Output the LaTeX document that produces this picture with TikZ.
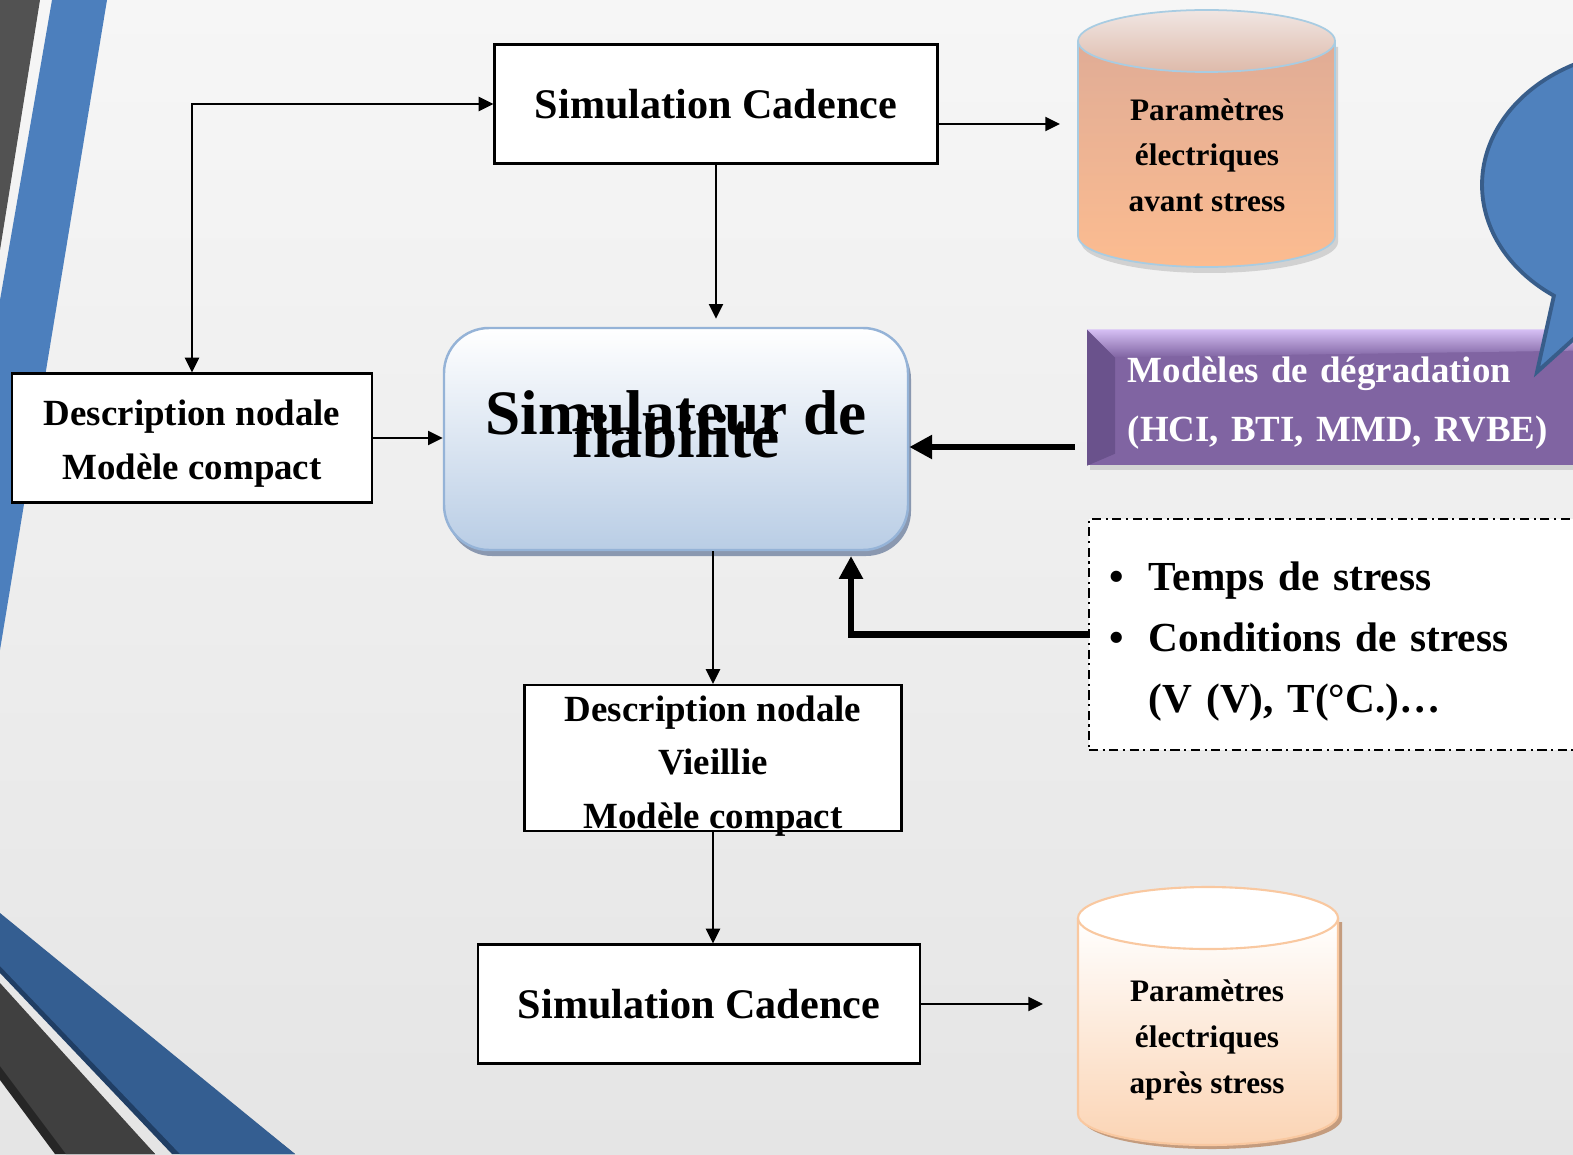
\documentclass[tikz,border=0pt]{standalone}
\usepackage{fontspec}
\setmainfont{Liberation Serif}
\usetikzlibrary{arrows.meta,calc,shapes.callouts,shadows}

\definecolor{fond}{RGB}{246,246,246}
\definecolor{fondbas}{RGB}{229,229,229}
\definecolor{bandeau}{RGB}{76,127,189}
\definecolor{bandeaubas}{RGB}{52,94,145}
\definecolor{bandeauombre}{RGB}{32,62,100}
\definecolor{gris}{RGB}{82,82,82}
\definecolor{grisbas}{RGB}{64,64,64}
\definecolor{simbleu}{RGB}{185,205,229}
\definecolor{simbord}{RGB}{149,179,215}
\definecolor{simombre}{RGB}{138,152,176}
\definecolor{violet}{RGB}{128,100,162}
\definecolor{violetclair}{RGB}{214,192,245}
\definecolor{violetfonce}{RGB}{106,82,140}
\definecolor{bulle}{RGB}{79,129,189}
\definecolor{bullebord}{RGB}{56,93,138}
\definecolor{saumonhaut}{RGB}{224,172,150}
\definecolor{saumonbas}{RGB}{252,188,144}
\definecolor{couvercle}{RGB}{240,230,227}
\definecolor{couverclebas}{RGB}{222,186,170}
\definecolor{cylbord}{RGB}{168,204,226}
\definecolor{pechebas}{RGB}{251,212,180}
\definecolor{pechebord}{RGB}{249,200,160}
\definecolor{pecheombre}{RGB}{196,156,126}

\newcommand\serre{\lineskiplimit=-100pt\relax}
\newcommand\haut[1]{\rule{0pt}{#1}}
\newcommand\bas[1]{\rule[-#1]{0pt}{#1}}

\tikzset{
  cadre/.style={draw=black, line width=0.6pt, fill=white, inner sep=0pt, align=center},
  fleche/.style={line width=0.6pt, -{Triangle[length=4.2pt,width=4pt]}},
  doublefleche/.style={line width=0.6pt, {Triangle[length=4.2pt,width=4pt]}-{Triangle[length=4.2pt,width=4pt]}},
  grossefleche/.style={line width=1.8pt, -{Triangle[length=6.5pt,width=6.5pt]}},
}

\begin{document}
\begin{tikzpicture}[x=0.1mm,y=-0.1mm]
  \useasboundingbox (0,0) rectangle (1573,1154);
  \begin{scope}
    \clip (0,0) rectangle (1573,1154);
    \shade[top color=fond, bottom color=fondbas] (0,0) rectangle (1573,1154);

    % bandeaux du gabarit
    \fill[gris] (0,0) -- (40,0) -- (0,250) -- cycle;
    \fill[bandeau] (52,0) -- (107,0) -- (0,650) -- (0,300) -- cycle;
    \fill[bandeauombre] (0,920) -- (295,1154) -- (172,1154) -- (0,973) -- cycle;
    \fill[bandeaubas] (0,913) -- (295,1154) -- (180,1154) -- (0,966) -- cycle;
    \fill[black!85] (0,990) -- (155,1154) -- (55,1154) -- (0,1080) -- cycle;
    \fill[grisbas] (0,983) -- (155,1154) -- (66,1154) -- (0,1066) -- cycle;

    % cylindre avant stress
    \fill[black!18] (1081,47) -- (1081,242) arc[start angle=180, end angle=0, x radius=128.5, y radius=31] -- (1338,47) -- cycle;
    \shade[top color=saumonhaut, bottom color=saumonbas] (1078,41) -- (1078,236) arc[start angle=180, end angle=0, x radius=128.5, y radius=31] -- (1335,41) -- cycle;
    \draw[cylbord, line width=0.5pt] (1078,41) -- (1078,236) arc[start angle=180, end angle=0, x radius=128.5, y radius=31] -- (1335,41);
    \shade[top color=couvercle, bottom color=couverclebas, draw=cylbord, line width=0.5pt] (1206.5,41) ellipse[x radius=128.5, y radius=31];
    \node[font=\bfseries\fontsize{8.9}{13}\selectfont, align=center] (avant) at (1207,155) {Paramètres\\électriques\\avant stress};

    % cylindre apres stress
    \fill[pecheombre] (1082,922) -- (1082,1118) arc[start angle=180, end angle=0, x radius=130, y radius=31] -- (1342,922) -- cycle;
    \shade[top color=white, bottom color=pechebas] (1078,918) -- (1078,1114) arc[start angle=180, end angle=0, x radius=130, y radius=31] -- (1338,918) -- cycle;
    \draw[pechebord, line width=0.6pt] (1078,918) -- (1078,1114) arc[start angle=180, end angle=0, x radius=130, y radius=31] -- (1338,918);
    \filldraw[fill=white, draw=pechebord, line width=0.6pt] (1208,918) ellipse[x radius=130, y radius=31];
    \node[font=\bfseries\fontsize{8.9}{13}\selectfont, align=center] (apres) at (1207,1040) {Paramètres\\électriques\\après stress};

    % blocs
    \node[cadre, font=\bfseries\fontsize{12}{14}\selectfont, minimum width=44.3mm, minimum height=11.9mm] (simhaut) at (716,104) {Simulation Cadence};
    \node[cadre, font=\bfseries\fontsize{10.5}{15.4}\selectfont, minimum width=36mm, minimum height=12.9mm] (descA) at (192,438) {\haut{10.5pt}Description nodale\\Modèle compact};
    \node[draw=simbord, line width=0.7pt, rounded corners=4.5mm, top color=white, bottom color=simbleu,
      drop shadow={shadow xshift=0.3mm, shadow yshift=-0.6mm, fill=simombre, opacity=1},
      minimum width=46.4mm, minimum height=22.2mm, align=center,
      font={\bfseries\fontsize{18}{6.3}\selectfont\serre}] (simu) at (676,439) {Simulateur de\\fiabilité\bas{8.5pt}};
    \node[cadre, minimum width=37.7mm, minimum height=14.6mm] (descB) at (713,758) {};
    \node[align=center, font=\bfseries\fontsize{10.5}{15.2}\selectfont] (descBtexte) at ($(descB.center)+(0,8)$) {Description nodale\\Vieillie\\Modèle compact};
    \node[cadre, font=\bfseries\fontsize{12}{14}\selectfont, minimum width=44.2mm, minimum height=11.9mm] (simbas) at (699,1004) {Simulation Cadence};

    % modeles de degradation
    \node[fill=violet, anchor=west, minimum height=13.5mm, text width=50mm, inner xsep=4mm, align=left,
      drop shadow={opacity=0.25, shadow xshift=0.2mm, shadow yshift=-0.5mm}] (degr) at (1087,397.5) {};
    \fill[violetfonce] (degr.north west) -- ++(28,28) -- ($(degr.south west)+(28,-12)$) -- (degr.south west) -- cycle;
    \shade[top color=violetclair, bottom color=violet] (degr.north west) -- (degr.north east) -- ($(degr.north east)+(0,20)$) -- ($(degr.north west)+(28,28)$) -- cycle;
    \node[anchor=west, text width=50mm, inner xsep=4mm, align=left, text=white,
      font=\bfseries\fontsize{10.5}{16.8}\selectfont] (degrtexte) at ($(degr.west)+(0,6)$) {Modèles de dégradation\\(HCI, BTI, MMD, RVBE)};

    % bulle
    \node[ellipse callout, draw=bullebord, fill=bulle, line width=1.1pt, minimum width=33.6mm, minimum height=27mm,
      callout absolute pointer={(1537,372)}, callout pointer arc=18] (bulle) at (1650,185) {};

    % conditions de stress
    \node[draw=black, fill=white, line width=0.5pt, dash pattern=on 2.6pt off 1.3pt on 0.6pt off 1.3pt,
      anchor=west, minimum height=23.1mm, text width=56.2mm, inner xsep=2.1mm, align=left,
      font=\bfseries\fontsize{11.75}{17.4}\selectfont] (stress) at (1088,634.5)
      {\haut{12pt}\textbullet\hspace{7pt}Temps de stress\\\textbullet\hspace{7pt}Conditions de stress\\\phantom{\textbullet}\hspace{7pt}(V (V), T(°C.)…};

    % liaisons
    \draw[fleche, shorten >=0.8mm] (simhaut.south) -- (simhaut.south |- simu.north);
    \draw[doublefleche] (descA.north) |- (simhaut.west);
    \draw[fleche] (descA.east) -- (descA.east -| simu.west);
    \draw[fleche] (descB.north |- simu.south) -- (descB.north);
    \draw[fleche] (descB.south) -- (descB.south |- simbas.north);
    \coordinate (versA) at (1060,124);
    \draw[fleche] (simhaut.east |- versA) -- (versA);
    \coordinate (versB) at (1043,1004);
    \draw[fleche] (simbas.east) -- (versB);
    \coordinate (departA) at (1075,447);
    \draw[grossefleche] (departA) -- (departA -| simu.east);
    \coordinate (arriveeB) at (851,556);
    \draw[grossefleche] (stress.west) -| (arriveeB);
  \end{scope}
\end{tikzpicture}
\end{document}
